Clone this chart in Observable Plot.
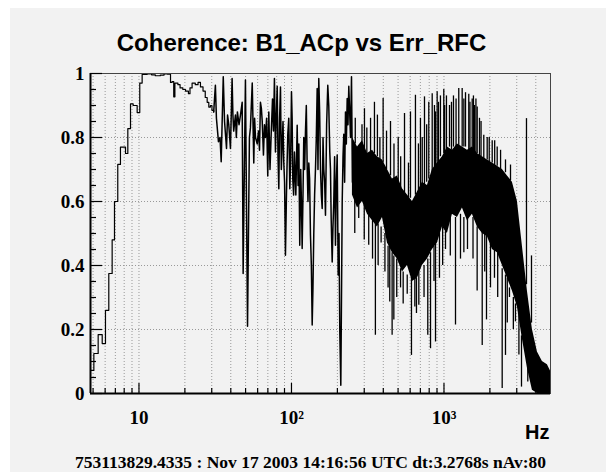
<!DOCTYPE html>
<html><head><meta charset="utf-8">
<script src="https://cdn.jsdelivr.net/npm/d3@7"></script>
<script src="https://cdn.jsdelivr.net/npm/@observablehq/plot@0.6"></script>
<style>
html,body{margin:0;padding:0;background:#fff;}
#wrap{position:absolute;left:10px;top:8px;width:596px;height:464px;background:#f2f2f2;overflow:hidden;}
</style></head><body><div id="wrap"></div>
<script>
const title = "Coherence: B1_ACp vs Err_RFC";
const footer = "753113829.4335 : Nov 17 2003 14:16:56 UTC dt:3.2768s nAv:80";
const xUnit = "Hz";

// low-frequency histogram steps (bin start, coherence)
const lowFreq = [4.81,5.06,5.40,5.74,6.03,6.34,6.67,6.91,7.26,7.56,8.16,8.45,8.80,9.16,9.73,10.12,10.49,11.3,12.1,12.8,13.8,14.6,15.4,16.1,16.5,16.9,17.2,18.0,18.6,19.4,20.2,21.1,21.6,22.3,23.4,24.4,25.3,26.3,27.2,28.0,28.7,29.4,30.1,30.9];
const lowCoh  = [0.072,0.125,0.184,0.156,0.26,0.375,0.48,0.60,0.716,0.77,0.75,0.828,0.905,0.90,0.878,0.97,0.997,0.999,0.996,0.993,0.995,0.999,0.998,0.972,0.975,0.927,0.97,0.965,0.955,0.95,0.945,0.937,0.955,0.97,0.965,0.972,0.958,0.945,0.925,0.91,0.895,0.90,0.885,0.88];

// mid-frequency jagged trace
const midFreq = [30.9,31.7,32.2,33.2,34.0,34.6,35.7,36.4,37.5,38.1,38.8,39.8,40.8,41.3,41.8,42.9,43.5,44.2,45.3,46.3,47.5,48.2,48.7,49.9,51.5,53.0,53.8,55.3,56.6,57.3,58.1,59.6,60.8,61.7,62.6,63.5,64.3,65.5,66.5,67.5,68.7,69.9,71.0,72.3,73.6,75.1,76.2,77.3,78.5,79.5,80.6,81.6,82.6,83.6,84.7,85.8,86.9,88.0,89.0,90.1,91.3,92.7,93.6,94.6,96.0,97.5,98.7,100,101.0,102.0,103.3,104.6,106.8,109.0,110.5,111.8,113.3,115.0,116.2,117.5,119.0,120.4,122.0,123.5,125.1,126.8,128.3,129.9,131.5,133.2,135.0,136.7,138.3,140.0,141.8,143.7,145.5,147.4,149.2,151.0,153.0,155.0,157.0,159.0,161.0,162.9,165.0,167.1,170.0,173.0,175.6,178.3,180.2,182.1,184.9,187.1,189.4,191.8,194.3,196.8,199.4,202.4,205.0,207.4,210.6,212.8,215.1,217.7,220.3,223.1,226.0,228.9,231.9,234.7,237.6,240.7,243.8,247.5,251];
const midCoh  = [0.88,0.963,0.86,0.787,0.80,0.724,0.99,0.85,0.766,0.87,0.84,0.766,0.984,0.87,0.82,0.87,0.80,0.88,0.84,0.87,0.91,0.375,0.56,0.98,0.21,0.80,0.83,0.97,0.72,0.86,0.80,0.78,0.82,0.76,0.91,0.89,0.85,0.745,0.84,0.80,0.86,0.68,0.88,0.70,0.81,0.92,0.82,0.984,0.755,0.86,0.96,0.74,0.64,0.86,0.958,0.70,0.78,0.85,0.724,0.66,0.432,0.62,0.72,0.81,0.86,0.64,0.72,0.943,0.86,0.67,0.62,0.755,0.62,0.838,0.65,0.78,0.463,0.70,0.60,0.453,0.62,0.80,0.70,0.818,0.90,0.703,0.60,0.72,0.67,0.495,0.40,0.214,0.33,0.495,0.62,0.703,0.80,0.953,0.70,0.984,0.88,0.70,0.62,0.578,0.80,0.70,0.66,0.557,0.84,0.963,0.90,0.755,0.70,0.547,0.411,0.52,0.60,0.74,0.463,0.66,0.745,0.37,0.50,0.193,0.026,0.30,0.60,0.74,0.81,0.66,0.88,0.78,0.922,0.84,0.96,0.88,0.80,0.99,0.66];

// dense high-frequency band envelope
const bandFreq = [251,271,292,315,340,366,395,426,459,495,534,576,621,670,722,779,840,906,977,1053,1136,1225,1321,1425,1536,1657,1787,1927,2078,2241,2417,2606,2810,3031,3268,3524,3801,4099,4420,4767,4994];
const bandHigh = [0.80,0.77,0.79,0.75,0.76,0.74,0.73,0.70,0.67,0.68,0.64,0.62,0.60,0.63,0.66,0.65,0.70,0.72,0.74,0.77,0.76,0.78,0.77,0.76,0.77,0.75,0.74,0.73,0.72,0.71,0.70,0.68,0.66,0.60,0.46,0.32,0.20,0.13,0.10,0.09,0.07];
const bandLow  = [0.62,0.58,0.60,0.56,0.54,0.52,0.55,0.47,0.44,0.42,0.38,0.40,0.35,0.36,0.40,0.42,0.45,0.47,0.52,0.50,0.56,0.55,0.58,0.54,0.56,0.52,0.50,0.49,0.45,0.44,0.40,0.36,0.32,0.27,0.17,0.08,0.01,0.0,0.0,0.0,0.0];

// individual spikes leaving the band (frequency, band edge, spike tip)
const spikeFreq = [301,350,366,399,446,501,551,603,650,701,745,795,837,866,902,948,997,1038,1087,1154,1250,1316,1384,1454,1531,1585,1651,1709,1824,1920,2071,2233,2531,2730,3475,3748,
                   262,290,312,330,380,420,470,520,585,680,720,770,880,920,1010,1120,1200,1350,1480,1560,1620,1750,1980,2150,2350,
                   276,321,355,387,441,457,469,519,574,612,644,684,783,816,880,934,1023,1190,1283,1426,1781,1900,2018,2143,2408,2531,2688,2943,3223,3544,
                   260,300,340,370,410,430,490,540,660,740,860,980,1100,1350,1550,1650,1850,2250,2600,2850,3100];
const spikeBase = [0.76,0.75,0.74,0.72,0.68,0.64,0.62,0.61,0.62,0.63,0.65,0.67,0.68,0.69,0.71,0.74,0.75,0.76,0.77,0.77,0.77,0.77,0.77,0.76,0.76,0.75,0.75,0.74,0.73,0.73,0.72,0.71,0.69,0.665,0.34,0.22,
                   0.78,0.77,0.75,0.75,0.73,0.70,0.66,0.63,0.61,0.63,0.65,0.66,0.70,0.72,0.75,0.76,0.77,0.77,0.76,0.76,0.75,0.74,0.72,0.71,0.70,
                   0.61,0.57,0.55,0.52,0.46,0.44,0.43,0.39,0.37,0.36,0.37,0.38,0.42,0.44,0.47,0.50,0.52,0.55,0.56,0.55,0.51,0.50,0.47,0.45,0.39,0.37,0.33,0.28,0.18,0.08,
                   0.62,0.59,0.55,0.53,0.50,0.46,0.42,0.38,0.36,0.40,0.46,0.52,0.55,0.55,0.55,0.52,0.50,0.44,0.36,0.30,0.25];
const spikeTip  = [0.89,0.91,0.87,0.922,0.85,0.80,0.875,0.88,0.932,0.86,0.927,0.91,0.937,0.90,0.943,0.93,0.95,0.93,0.90,0.93,0.953,0.953,0.94,0.935,0.92,0.90,0.895,0.86,0.807,0.80,0.79,0.77,0.73,0.714,0.859,0.43,
                   0.86,0.84,0.83,0.86,0.80,0.82,0.78,0.74,0.72,0.78,0.80,0.84,0.88,0.91,0.90,0.91,0.92,0.92,0.91,0.93,0.92,0.85,0.80,0.79,0.76,
                   0.547,0.463,0.182,0.47,0.286,0.182,0.23,0.33,0.31,0.119,0.27,0.276,0.182,0.14,0.161,0.36,0.45,0.214,0.42,0.45,0.150,0.23,0.33,0.36,0.016,0.119,0.30,0.224,0.02,0.036,
                   0.50,0.48,0.42,0.40,0.38,0.33,0.30,0.28,0.25,0.30,0.35,0.40,0.43,0.44,0.42,0.32,0.38,0.30,0.22,0.20,0.12];

const xDomain = [4.81, 4994];
const xMajorTicks = [10, 100, 1000];
const xTickLabels = ["10", "10\u00b2", "10\u00b3"];
const xMinorTicks = [5,6,7,8,9,20,30,40,50,60,70,80,90,200,300,400,500,600,700,800,900,2000,3000,4000];
const xGrid = [5,6,7,8,9,10,20,30,40,50,60,70,80,90,100,200,300,400,500,600,700,800,900,1000,2000,3000,4000];
const yMajorTicks = [0, 0.2, 0.4, 0.6, 0.8, 1];
const yTickLabels = ["0", "0.2", "0.4", "0.6", "0.8", "1"];
const yMinorTicks = [0.05,0.1,0.15,0.25,0.3,0.35,0.45,0.5,0.55,0.65,0.7,0.75,0.85,0.9,0.95];
const yGrid = [0.2, 0.4, 0.6, 0.8, 1];

const low = lowFreq.map((f, i) => ({f, v: lowCoh[i]}));
const mid = midFreq.map((f, i) => ({f, v: midCoh[i]}));
const band = bandFreq.map((f, i) => ({f, hi: bandHigh[i], lo: bandLow[i]}));
const spikes = spikeFreq.map((f, i) => ({f, base: spikeBase[i], tip: spikeTip[i]}));

const serif = {fontFamily: "Liberation Serif", fontWeight: "bold", fontSize: 19};
const gridStyle = {stroke: "#999", strokeOpacity: 1, strokeWidth: 1, strokeDasharray: "1,2"};

const chart = Plot.plot({
  width: 596, height: 464,
  marginLeft: 80, marginRight: 56, marginTop: 65, marginBottom: 79,
  style: {background: "transparent", overflow: "visible"},
  x: {type: "log", domain: xDomain},
  y: {domain: [0, 1]},
  marks: [
    Plot.gridX(xGrid, gridStyle),
    Plot.gridY(yGrid, gridStyle),
    Plot.areaY(band, {x: "f", y1: "lo", y2: "hi", fill: "#000"}),
    Plot.ruleX(spikes, {x: "f", y1: "base", y2: "tip", stroke: "#000", strokeWidth: 1.3}),
    Plot.line(low, {x: "f", y: "v", curve: "step-after", stroke: "#000", strokeWidth: 1.2}),
    Plot.line(mid, {x: "f", y: "v", stroke: "#000", strokeWidth: 1.5}),
    Plot.frame({stroke: "#444", strokeWidth: 1}),
    Plot.ruleY([0], {stroke: "#000", strokeWidth: 2}),
    Plot.ruleX([xDomain[0]], {stroke: "#000", strokeWidth: 2}),
    Plot.axisX(xMajorTicks, {anchor: "bottom", tickSize: -10, fill: "none", label: null, strokeWidth: 1.2}),
    Plot.axisX(xMinorTicks, {anchor: "bottom", tickSize: -5, fill: "none", label: null, strokeWidth: 1.2}),
    Plot.axisX(xMajorTicks, {anchor: "bottom", tickSize: 0, tickPadding: 17, label: null, tickFormat: d => xTickLabels[xMajorTicks.indexOf(d)], ...serif, fill: "#000"}),
    Plot.axisY(yMajorTicks, {anchor: "left", tickSize: -12, fill: "none", label: null, strokeWidth: 1.2}),
    Plot.axisY(yMinorTicks, {anchor: "left", tickSize: -6, fill: "none", label: null, strokeWidth: 1.2}),
    Plot.axisY(yMajorTicks, {anchor: "left", tickSize: 0, tickPadding: 6, label: null, tickFormat: d => yTickLabels[yMajorTicks.indexOf(d)], ...serif, fill: "#000"}),
    Plot.text([title], {frameAnchor: "top", lineAnchor: "bottom", dy: -23, dx: -19, text: d => d, fontFamily: "Liberation Sans", fontWeight: "bold", fontSize: 24, fill: "#000"}),
    Plot.text([xUnit], {frameAnchor: "bottom-right", textAnchor: "end", lineAnchor: "bottom", dy: 45, dx: -1, text: d => d, fontFamily: "Liberation Sans", fontWeight: "bold", fontSize: 20, fill: "#000"}),
    Plot.text([footer], {frameAnchor: "bottom", lineAnchor: "bottom", dy: 74, dx: -10, text: d => d, fontFamily: "Liberation Serif", fontWeight: "bold", fontSize: 17.5, fill: "#000"})
  ]
});
document.getElementById("wrap").appendChild(chart);
</script></body></html>
